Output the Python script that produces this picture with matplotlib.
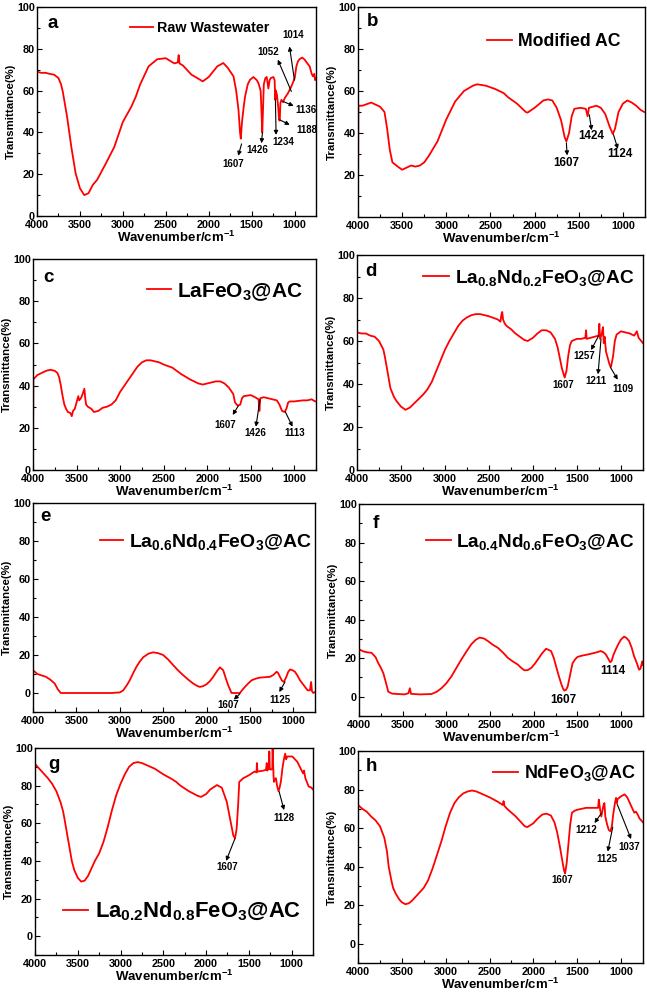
import matplotlib
matplotlib.use('Agg')
import matplotlib.pyplot as plt
from matplotlib.ticker import MultipleLocator

plt.rcParams['font.family'] = ['Liberation Sans', 'DejaVu Sans']
plt.rcParams['font.weight'] = 'bold'
plt.rcParams['axes.labelweight'] = 'bold'
plt.rcParams['mathtext.fontset'] = 'custom'
plt.rcParams['mathtext.rm'] = 'Liberation Sans:bold'
plt.rcParams['mathtext.it'] = 'Liberation Sans:bold'
plt.rcParams['mathtext.bf'] = 'Liberation Sans:bold'

# ---- spectra: (wavenumber cm-1, transmittance %) ----
spec_a = [(4000, 69), (3950, 68.5), (3900, 68.5), (3850, 68), (3800, 67.6), (3750, 66), (3720, 63),
          (3700, 59.6), (3650, 47.6), (3600, 33), (3550, 20.4), (3500, 13.3), (3450, 10), (3400, 10.9),
          (3350, 14.9), (3300, 17.3), (3200, 25), (3100, 33), (3000, 45), (2900, 52.4), (2850, 57),
          (2800, 62.8), (2700, 71.6), (2600, 75), (2500, 75.5), (2400, 73), (2360, 73.5), (2350, 77),
          (2340, 73), (2300, 72), (2200, 67.6), (2100, 65.2), (2070, 64.4), (2000, 66.5), (1900, 71.6),
          (1830, 73.2), (1780, 71), (1711, 66.8), (1680, 60), (1653, 50.8), (1635, 40), (1626, 37),
          (1612, 45), (1590, 53), (1576, 57.2), (1545, 63), (1518, 65.2), (1479, 66.5), (1440, 65),
          (1421, 63.6), (1395, 60), (1385, 50), (1376, 40), (1368, 50), (1358, 63), (1340, 66),
          (1324, 66.5), (1305, 61), (1290, 65), (1277, 66), (1246, 66.5), (1232, 65), (1224, 55.6),
          (1218, 60), (1205, 58), (1190, 52), (1180, 46), (1172, 45.6), (1165, 54), (1153, 55.6),
          (1134, 54.5), (1114, 56.4), (1076, 58.8), (1037, 62), (998, 66), (979, 71.6), (960, 74),
          (940, 75.1), (910, 75.8), (882, 74.8), (850, 73), (824, 71.6), (800, 68), (785, 66.8),
          (770, 68), (760, 65), (750, 66)]

spec_b = [(4000, 0), (3996, 53), (3950, 53), (3850, 54.5), (3750, 52.5), (3700, 50), (3670, 42),
          (3640, 32), (3610, 26), (3550, 24), (3500, 22.5), (3450, 23.5), (3400, 24.5), (3350, 24),
          (3300, 24.5), (3250, 26), (3200, 29), (3100, 36), (3000, 46.5), (2900, 55), (2800, 60),
          (2700, 62.5), (2650, 63.2), (2550, 62.5), (2450, 61), (2350, 59), (2300, 57), (2200, 54),
          (2100, 50), (2080, 49.7), (2000, 52), (1900, 55.5), (1850, 56), (1800, 55.5), (1750, 52),
          (1700, 46), (1660, 38), (1640, 36), (1610, 40), (1580, 48), (1550, 51.5), (1480, 52),
          (1420, 51.5), (1400, 48), (1385, 52), (1300, 53), (1250, 52), (1200, 49), (1150, 43),
          (1115, 39.5), (1090, 42), (1050, 50), (1000, 54), (950, 55.5), (900, 54.5), (850, 53),
          (800, 51), (760, 50), (750, 50)]

spec_c = [(4000, 0), (3996, 43), (3950, 45), (3900, 46), (3850, 47), (3800, 47.5), (3750, 47),
          (3720, 46), (3700, 44), (3680, 40), (3660, 35), (3640, 31), (3620, 29), (3600, 27.5),
          (3570, 27), (3555, 25.5), (3540, 28), (3520, 29), (3500, 32), (3480, 35), (3470, 33),
          (3450, 34), (3430, 36), (3410, 38.5), (3400, 34), (3390, 31), (3370, 30), (3330, 29),
          (3300, 27.5), (3250, 28), (3200, 29.5), (3150, 30), (3100, 31), (3050, 33), (3000, 37),
          (2950, 40), (2900, 43), (2850, 46), (2800, 49), (2750, 51), (2700, 52), (2650, 52),
          (2600, 51.5), (2550, 51), (2500, 50), (2400, 48.5), (2350, 47), (2300, 45.5), (2200, 43),
          (2100, 41), (2050, 40.5), (2000, 41), (1900, 42), (1850, 42), (1800, 41), (1750, 39),
          (1700, 36), (1680, 32), (1650, 30.5), (1620, 31), (1600, 34), (1580, 35), (1500, 35.5),
          (1450, 34.5), (1410, 33.5), (1400, 28), (1390, 34), (1350, 34.5), (1300, 34), (1250, 33.5),
          (1200, 33), (1170, 31), (1140, 28), (1110, 27.5), (1090, 29), (1070, 32), (1050, 32.5),
          (1000, 32.5), (900, 33), (850, 33), (800, 33.5), (760, 32.5), (750, 32.5)]

spec_d = [(4000, 64), (3950, 63.5), (3900, 63.5), (3850, 62.5), (3800, 62), (3750, 60), (3700, 56),
          (3680, 52), (3650, 45), (3620, 38), (3580, 34), (3550, 32), (3500, 29.5), (3450, 28),
          (3400, 29), (3350, 31), (3300, 33), (3250, 35), (3200, 37.5), (3150, 41), (3100, 46),
          (3050, 51), (3000, 56), (2950, 60), (2900, 63.5), (2850, 67), (2800, 69.5), (2750, 71),
          (2700, 72), (2650, 72.5), (2600, 72.5), (2500, 71.5), (2400, 70), (2370, 69), (2360, 72),
          (2350, 73.5), (2340, 70), (2320, 68), (2300, 67), (2250, 65.5), (2200, 63.5), (2150, 62),
          (2100, 60.5), (2060, 60), (2000, 61.5), (1950, 63.5), (1900, 65), (1850, 65), (1800, 64),
          (1750, 61), (1720, 57), (1700, 53), (1670, 47), (1640, 43), (1620, 46), (1600, 53),
          (1580, 58), (1560, 60), (1500, 61), (1450, 61), (1405, 61.5), (1397, 65), (1390, 61),
          (1300, 62), (1255, 62.5), (1246, 68), (1238, 61), (1220, 63), (1205, 66.5), (1196, 59),
          (1186, 62), (1170, 55), (1150, 52), (1130, 49), (1113, 48), (1090, 53), (1070, 60),
          (1050, 63), (1000, 64.5), (950, 64), (900, 63.5), (850, 62.5), (820, 64.5), (800, 61.5),
          (770, 60), (750, 59)]

spec_e = [(4000, 12), (3950, 10), (3850, 8.5), (3800, 7), (3750, 5), (3715, 2), (3680, 0),
          (3600, 0), (3500, 0), (3400, 0), (3300, 0), (3200, 0), (3100, 0), (3000, 0.3),
          (2960, 1.4), (2920, 4), (2885, 6.7), (2845, 10.5), (2808, 13.8), (2770, 16.5),
          (2730, 18.8), (2670, 20.7), (2615, 21.4), (2560, 21), (2500, 20), (2440, 17.5),
          (2385, 14.7), (2330, 12), (2270, 9.4), (2210, 7), (2154, 5), (2110, 3.8), (2077, 3.2),
          (2040, 3.6), (2000, 4.6), (1960, 6.3), (1923, 8.5), (1880, 11.5), (1846, 13.5),
          (1808, 12), (1780, 8), (1750, 4), (1712, 0), (1650, 0), (1615, 0), (1590, 1.5),
          (1558, 3.2), (1520, 5), (1480, 6.7), (1430, 7.6), (1385, 8.1), (1330, 8.3), (1270, 8.5),
          (1230, 9.5), (1192, 11.2), (1175, 10.5), (1154, 8.5), (1130, 6.5), (1108, 5.8),
          (1080, 8.5), (1060, 11), (1038, 12.4), (1010, 12), (981, 11.2), (950, 9), (923, 6.7),
          (895, 5), (865, 3.2), (835, 1.4), (808, 1.4), (795, 5.8), (785, 1), (770, 0), (750, 0.5)]

spec_f = [(4000, -10), (3998, 24.6), (3950, 23.5), (3900, 23), (3856, 22.8), (3810, 20.5),
          (3780, 17.5), (3750, 15), (3722, 12.3), (3690, 7), (3665, 2.6), (3620, 1.6), (3551, 1.4),
          (3480, 1.2), (3435, 1.8), (3418, 4.4), (3405, 1.5), (3300, 1.2), (3171, 1.4), (3110, 2.6),
          (3057, 4.4), (3000, 7), (2943, 10.5), (2885, 15), (2829, 19.3), (2770, 23.5), (2715, 27.2),
          (2665, 29.5), (2620, 30.7), (2570, 30.2), (2525, 28.9), (2470, 27), (2411, 25.4),
          (2350, 22.8), (2297, 20.2), (2240, 18.3), (2183, 16.7), (2140, 14.8), (2107, 13.7),
          (2070, 13.8), (2030, 14.9), (1990, 17), (1954, 19.3), (1905, 22.5), (1859, 24.9),
          (1802, 23.7), (1770, 20), (1745, 15.8), (1715, 11), (1688, 7), (1665, 4.2), (1650, 3.2),
          (1630, 3.6), (1612, 5.3), (1590, 10), (1570, 14.5), (1555, 17.5), (1525, 19.5),
          (1498, 20.7), (1440, 21.4), (1384, 21.9), (1300, 22.8), (1232, 23.7), (1200, 23),
          (1175, 21.9), (1145, 19.5), (1125, 17.9), (1110, 18.5), (1090, 21.5), (1061, 24.6),
          (1030, 27.5), (1000, 29.8), (966, 31.2), (940, 30.5), (909, 28.9), (880, 25.5), (852, 21),
          (825, 18), (795, 14), (780, 14.5), (765, 17), (757, 18.4), (750, 16.5)]

spec_g = [(4000, 91.5), (3950, 89), (3900, 86.5), (3850, 84), (3800, 81), (3750, 77), (3700, 71),
          (3670, 66), (3650, 61), (3620, 53), (3600, 48), (3570, 40), (3540, 35), (3500, 31),
          (3460, 29), (3420, 29.5), (3380, 32), (3350, 35), (3300, 40), (3250, 44), (3200, 50),
          (3150, 58), (3100, 67), (3050, 75), (3000, 81), (2950, 86), (2900, 90), (2850, 92),
          (2800, 92.5), (2750, 92), (2700, 91), (2600, 89), (2500, 86), (2400, 83.5), (2350, 82),
          (2300, 80), (2200, 77), (2103, 74.7), (2060, 74), (2000, 75.5), (1950, 78), (1873, 80.3),
          (1816, 78.9), (1758, 71.4), (1720, 62.5), (1682, 53.6), (1662, 51.9), (1643, 57),
          (1625, 70), (1612, 82), (1567, 83.9), (1500, 85.5), (1433, 87.5), (1410, 87),
          (1406, 92), (1400, 87.5), (1337, 87.9), (1299, 88.4), (1291, 92), (1285, 88),
          (1265, 89), (1261, 98.2), (1255, 89), (1241, 88.5), (1226, 89), (1222, 100),
          (1212, 86), (1207, 82), (1184, 84), (1170, 80), (1153, 77), (1140, 79), (1126, 82),
          (1105, 90), (1088, 94.6), (1075, 97), (1065, 94), (1050, 95.5), (992, 95.5),
          (935, 92.8), (877, 87.5), (865, 86.5), (855, 88), (839, 83.9), (800, 79.5), (770, 79),
          (750, 78)]

spec_h = [(4000, 72), (3950, 70), (3900, 68.5), (3850, 66), (3800, 64), (3750, 61), (3700, 55),
          (3670, 48), (3650, 40), (3620, 33), (3600, 29), (3570, 26), (3530, 23), (3500, 21.5),
          (3460, 20.5), (3420, 21), (3380, 22.5), (3330, 25), (3280, 27.5), (3250, 29), (3200, 33),
          (3150, 39), (3100, 46), (3050, 53), (3000, 61), (2950, 68), (2900, 73), (2850, 76),
          (2800, 78), (2750, 79), (2700, 79.5), (2650, 79), (2600, 78), (2500, 76), (2400, 73.5),
          (2350, 72), (2340, 74), (2330, 71.5), (2300, 70), (2200, 66), (2100, 61), (2070, 60.5),
          (2000, 62.5), (1950, 65), (1900, 67), (1850, 67.5), (1800, 66.5), (1760, 63), (1730, 58),
          (1700, 51), (1670, 43), (1650, 38), (1638, 36.5), (1620, 42), (1600, 52), (1580, 62),
          (1560, 68), (1530, 69), (1500, 69.5), (1450, 70), (1400, 70.5), (1300, 70.5),
          (1262, 70.5), (1254, 74.8), (1240, 70), (1225, 66), (1200, 72), (1190, 73), (1180, 66),
          (1160, 62), (1140, 59), (1121, 58.3), (1105, 61), (1090, 67), (1070, 73), (1057, 75.7),
          (1048, 73), (1040, 75), (1000, 76.5), (960, 77.5), (930, 76), (900, 73), (870, 70),
          (850, 68), (830, 68.5), (810, 67), (790, 65), (770, 64), (750, 63)]

spectra = [spec_a, spec_b, spec_c, spec_d, spec_e, spec_f, spec_g, spec_h]
letters = ['a', 'b', 'c', 'd', 'e', 'f', 'g', 'h']
samples = ['Raw Wastewater', 'Modified AC', r'LaFeO$_3$@AC',
           r'La$_{0.8}$Nd$_{0.2}$FeO$_3$@AC', r'La$_{0.6}$Nd$_{0.4}$FeO$_3$@AC',
           r'La$_{0.4}$Nd$_{0.6}$FeO$_3$@AC', r'La$_{0.2}$Nd$_{0.8}$FeO$_3$@AC',
           r'NdFeO$_3$@AC']

# peak labels per panel: (label, text pos, arrow tail on curve, arrow head) -- None = no arrow
peaks_a = [('1607', (1711, 24.9), (1617, 34.5), (1656, 28.8)),
           ('1426', (1439, 31.6), (1374, 40), (1385, 34.8)),
           ('1234', (1136, 35.6), (1223, 55.6), (1215, 38.8)),
           ('1188', (862, 41), (1172, 46), (1056, 43.6)),
           ('1136', (862, 50.5), (1134, 54.8), (1010, 52.7)),
           ('1052', (1304, 78.3), (1037, 59.6), (1195, 74.8)),
           ('1014', (1013, 86.7), (1001, 65), (1059, 81.1))]
peaks_b = [('1607', (1640, 25.8), (1640, 35.3), (1632, 29.3)),
           ('1424', (1362, 38.4), (1381, 48.7), (1354, 41.3)),
           ('1124', (1031, 29.8), (1107, 39.2), (1057, 32.4))]
peaks_c = [('1607', (1791, 21.3), (1642, 30.4), (1707, 26.1)),
           ('1426', (1451, 17.3), (1394, 33.3), (1440, 20.5)),
           ('1113', (1000, 17.6), (1104, 27.7), (1019, 20.5))]
peaks_d = [('1607', (1654, 39.5), None, None),
           ('1257', (1416, 52.8), (1253, 62.5), (1340, 55.8)),
           ('1211', (1283, 41.4), (1227, 61), (1261, 44.5)),
           ('1109', (973, 37.8), (1124, 48), (1037, 42))]
peaks_e = [('1607', (1750, -6.5), (1615, -0.4), (1685, -3.5)),
           ('1125', (1154, -3.5), (1096, 5.8), (1162, 0.5))]
peaks_f = [('1607', (1665, -1.6), None, None),
           ('1114', (1099, 13.2), None, None)]
peaks_g = [('1607', (1759, 37), (1663, 51.8), (1766, 40)),
           ('1128', (1088, 62.9), (1146, 76.8), (1088, 67))]
peaks_h = [('1607', (1676, 33), None, None),
           ('1212', (1398, 58.8), (1228, 67.5), (1303, 62.6)),
           ('1125', (1163, 44), (1095, 60.5), (1152, 47.8)),
           ('1037', (905, 50), (1045, 72.5), (886, 54.3))]
peaks = [peaks_a, peaks_b, peaks_c, peaks_d, peaks_e, peaks_f, peaks_g, peaks_h]

# ---- layout (pixels in the 647x992 figure) ----
W, H = 647, 992
rects = [(37, 316, 7, 216), (358, 645, 7, 217), (33, 316, 259, 470), (357, 643, 255, 470),
         (33, 315, 503, 712), (359, 643, 504, 716), (35, 313, 748, 955), (358, 643, 751, 963)]
ylims = [(0, 100), (0, 100), (0, 100), (0, 100), (-10, 100), (-10, 100), (-10, 100), (-10, 100)]
leg_anchor = [(0.333, 0.90), (0.449, 0.835), (0.403, 0.845), (0.231, 0.893),
              (0.238, 0.815), (0.236, 0.822), (0.10, 0.209), (0.474, 0.896)]
leg_size = [10.3, 12.7, 15, 13.8, 14, 13.7, 15.8, 13]
leg_hl = [1.6, 1.45, 1.15, 1.35, 1.2, 1.3, 1.15, 1.4]
letter_pos = [(0.036, 0.923), (0.031, 0.93), (0.035, 0.91), (0.028, 0.922),
              (0.025, 0.934), (0.049, 0.909), (0.047, 0.918), (0.028, 0.929)]
peak_size = [7, 8.4, 7, 7, 7, 8.5, 7, 7]

fig = plt.figure(figsize=(W / 100, H / 100), dpi=100)

for i in range(8):
    l, r, t, b = rects[i]
    ax = fig.add_axes([l / W, 1 - b / H, (r - l) / W, (b - t) / H])
    wn = [p[0] for p in spectra[i]]
    tr = [p[1] for p in spectra[i]]
    ax.plot(wn, tr, color='#ff0000', lw=1.3, label=samples[i])

    ax.set_xlim(4000, 750)
    ax.set_ylim(*ylims[i])
    ax.xaxis.set_major_locator(MultipleLocator(500))
    ax.xaxis.set_minor_locator(MultipleLocator(250))
    if i == 1:
        ax.set_yticks([20, 40, 60, 80, 100])
    else:
        ax.set_yticks([0, 20, 40, 60, 80, 100])
    ax.yaxis.set_minor_locator(MultipleLocator(10))
    ax.tick_params(which='both', direction='in', top=False, right=False,
                   labelsize=7.8, width=0.8)
    ax.tick_params(axis='x', pad=3)
    ax.tick_params(axis='y', pad=1.5)
    ax.tick_params(which='major', length=3.5)
    ax.tick_params(which='minor', length=2)
    for s in ax.spines.values():
        s.set_linewidth(1.0)

    ax.set_xlabel('Wavenumber/cm$^{-1}$', fontsize=9.5, labelpad=0)
    ax.set_ylabel('Transmittance(%)', fontsize=8.2, labelpad=0.5)

    ax.text(letter_pos[i][0], letter_pos[i][1], letters[i], transform=ax.transAxes,
            fontsize=13.5, fontweight='bold', ha='left', va='center')

    ax.legend(loc='center left', bbox_to_anchor=leg_anchor[i], frameon=False,
              fontsize=leg_size[i], handlelength=leg_hl[i], handletextpad=0.3,
              borderpad=0, borderaxespad=0)

    for label, txt, tail, head in peaks[i]:
        ax.text(txt[0], txt[1], label, fontsize=peak_size[i], fontweight='bold',
                ha='center', va='center')
        if tail is not None:
            ax.annotate('', xy=head, xytext=tail,
                        arrowprops=dict(arrowstyle='-|>', color='black', lw=0.8,
                                        mutation_scale=6, shrinkA=0, shrinkB=0))

fig.savefig('out.png', dpi=100)
